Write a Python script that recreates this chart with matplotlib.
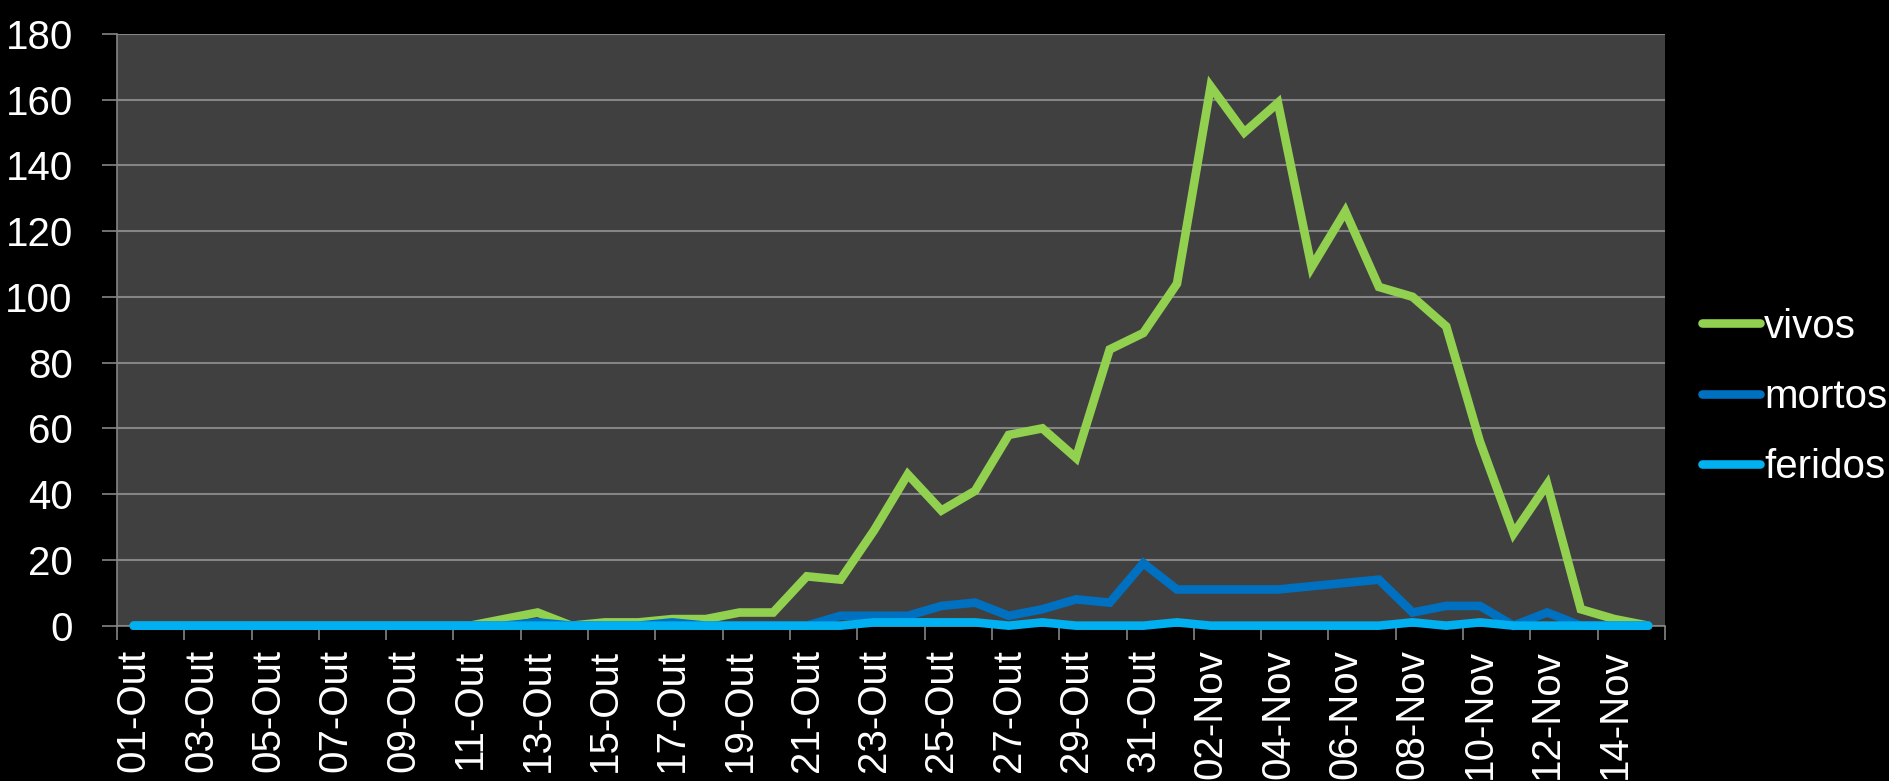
import numpy as np
import matplotlib
matplotlib.use("Agg")
import matplotlib.pyplot as plt
from matplotlib.font_manager import FontProperties

# ---------------- data ----------------
days_out = [f"{d:02d}-Out" for d in range(1, 32)]
days_nov = [f"{d:02d}-Nov" for d in range(1, 16)]
categories = days_out + days_nov

vivos = [0, 0, 0, 0, 0, 0, 0, 0, 0, 0, 0, 2, 4, 0, 1, 1, 2, 2, 4, 4,
         15, 14, 29, 46, 35, 41, 58, 60, 51, 84, 89, 104, 164, 150, 159, 109,
         126, 103, 100, 91, 56, 28, 43, 5, 2, 0]
mortos = [0, 0, 0, 0, 0, 0, 0, 0, 0, 0, 0, 0, 1, 0, 0, 0, 1, 0, 0, 0,
          0, 3, 3, 3, 6, 7, 3, 5, 8, 7, 19, 11, 11, 11, 11, 12,
          13, 14, 4, 6, 6, 0, 4, 0, 0, 0]
feridos = [0, 0, 0, 0, 0, 0, 0, 0, 0, 0, 0, 0, 0, 0, 0, 0, 0, 0, 0, 0,
           0, 0, 1, 1, 1, 1, 0, 1, 0, 0, 0, 1, 0, 0, 0, 0,
           0, 0, 1, 0, 1, 0, 0, 0, 0, 0]
series_names = ["vivos", "mortos", "feridos"]
series_colors = ["#92D050", "#0070C0", "#00B0F0"]
y_ticks = list(range(0, 181, 20))

# ---------------- fonts ----------------
fs = 29
plt.rcParams["font.family"] = ["Liberation Sans", "DejaVu Sans"]
fp = FontProperties(family=["Liberation Sans", "DejaVu Sans"], size=fs)

GRID = "#858585"
LW = 6.2

fig = plt.figure(figsize=(18.89, 7.81), dpi=100, facecolor="black")
ax = fig.add_axes([0.0619, 0.1989, 0.8195, 0.7579])
ax.set_facecolor("#404040")

x = np.arange(len(categories))
for vals, name, col in zip([vivos, mortos, feridos], series_names, series_colors):
    ax.plot(x, vals, color=col, lw=LW, label=name, clip_on=False,
            solid_capstyle="round", solid_joinstyle="miter", zorder=3)

ax.set_xlim(-0.5, len(categories) - 0.5)
ax.set_ylim(0, 180)

# y axis
ax.set_yticks(y_ticks)
ax.set_yticklabels([str(v) for v in y_ticks], fontproperties=fp)
ax.tick_params(axis="y", which="major", direction="out", length=10.8, width=1.2,
               color=GRID, labelcolor="white", pad=21)
ax.yaxis.grid(True, color=GRID, linewidth=1.5)
ax.set_axisbelow(True)

# x axis: tick marks between every two categories, labels every second day
ax.set_xticks(np.arange(-0.5, len(categories), 2))
ax.set_xticklabels([])
ax.set_xticks(x[::2], minor=True)
ax.set_xticklabels(categories[::2], minor=True, rotation=90, fontproperties=fp)
ax.tick_params(axis="x", which="major", direction="out", length=10, width=1.2, color=GRID)
ax.tick_params(axis="x", which="minor", length=0, labelcolor="white", pad=17)

for s in ["top", "right"]:
    ax.spines[s].set_visible(False)
for s in ["left", "bottom"]:
    ax.spines[s].set_color(GRID)
    ax.spines[s].set_linewidth(1.2)

leg = ax.legend(loc="center left", bbox_to_anchor=(0.901, 0.492),
                bbox_transform=fig.transFigure, frameon=False, prop=fp,
                labelcolor="white", handlelength=1.44, handletextpad=0.1,
                borderpad=0, borderaxespad=0, labelspacing=0.8)
for h in leg.get_lines():
    h.set_solid_capstyle("round")
    h.set_linewidth(LW)

fig.savefig("out.png", dpi=100, facecolor="black")
